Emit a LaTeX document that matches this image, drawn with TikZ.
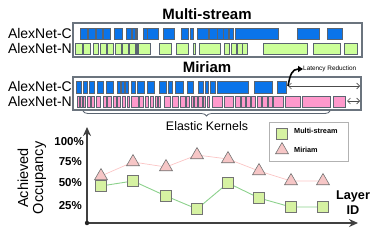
\documentclass[tikz,border=0pt]{standalone}
\usepackage{fontspec}
\setmainfont{Liberation Sans}
\usetikzlibrary{arrows.meta,shapes.geometric,decorations.pathreplacing}
\definecolor{cblue}{HTML}{0A74EA}
\definecolor{ngreen}{HTML}{CCFF99}
\definecolor{mpink}{HTML}{FF99CC}
\definecolor{edgegray}{HTML}{5A6470}
\definecolor{sqgreen}{HTML}{D6F2A2}
\definecolor{trpink}{HTML}{F6C6C6}
\tikzset{
  lane/.style={draw=edgegray!90,line width=1.2pt},
  cblk/.style={fill=cblue,draw=edgegray,line width=0.6pt},
  gblk/.style={fill=ngreen,draw=edgegray,line width=0.6pt},
  pblk/.style={fill=mpink,draw=edgegray,line width=0.6pt},
  rowlabel/.style={anchor=east,font=\fontsize{14}{14}\selectfont,inner sep=0pt},
  title/.style={font=\fontsize{15}{15}\selectfont\bfseries,inner sep=0pt},
  sqmark/.style={draw=black!55,fill=sqgreen,line width=0.6pt,minimum size=11pt,inner sep=0pt},
  trmark/.style={draw=black!55,fill=trpink,line width=0.6pt,regular polygon,regular polygon sides=3,minimum size=15pt,inner sep=0pt},
  pct/.style={anchor=east,font=\fontsize{11.5}{12}\selectfont\bfseries,inner sep=0pt}
}
\begin{document}
\begin{tikzpicture}[x=1pt,y=-1pt]
  \useasboundingbox (0,0) rectangle (374,242);
  % Multi-stream
  \node[title] (mstitle) at (207,14) {Multi-stream};
  \draw[lane] (73,23) rectangle (362,57);
  \node[rowlabel] (msc) at (72,33) {AlexNet-C};
  \node[rowlabel] (msn) at (72,48) {AlexNet-N};
  \foreach \a/\b in {80/87,88/95,96/102,103/110,114/122,126/131,132/135,136/137,
    143/147,147/158,163/174,181/188,190/193,197/208,209/217,217/223,223/228,
    229/233,235/278,297/319,327/342}
    \draw[cblk] (\a,28) rectangle (\b,39);
  \foreach \a/\b in {75/82,83/90,93/98,100/106,107/113,115/121,122/128,129/135,
    136/137,138/150,159/171,176/188,193/195,199/220,224/229,231/236,237/242,
    242/247,263/307,313/340,344/357}
    \draw[gblk] (\a,43) rectangle (\b,54);
  % Miriam
  \node[title] (mirtitle) at (207,67) {Miriam};
  \draw[lane] (73,77) rectangle (361,110);
  \node[rowlabel] (mc) at (72,86) {AlexNet-C};
  \node[rowlabel] (mn) at (72,101) {AlexNet-N};
  \foreach \a/\b in {76/81,83/87,89/94,97/103,106/113,117/120,121/124,125/128,
    131/135,137/144,147/154,159/166,168/172,175/183,187/193,198/203,205/208,
    210/215,217/248,254/272,277/286}
    \draw[cblk] (\a,81) rectangle (\b,93);
  \foreach \a/\b in {77/79,80/82,83/85,87/90,91/94,96/100,103/106,107/111,
    113/116,117/120,122/125,127/129,131/138,139/143,145/148,150/153,155/157,
    158/160,164/170,172/178,180/185,186/189,191/193,194/197,198/202,203/205,
    207/209,212/222,224/233,235/240,241/245,246/250,251/255,257/261,262/267,
    268/272,273/283,285/300,302/330,333/345}
    \draw[pblk] (\a,96) rectangle (\b,107);
  \coordinate (cend) at (288,86);
  \coordinate (cfar) at (360,86);
  \coordinate (nend) at (347,101);
  \coordinate (nfar) at (360,101);
  \draw[{Straight Barb[length=3pt]}-{Straight Barb[length=3pt]},black!70,line width=0.6pt] (cend) -- (cfar);
  \draw[{Straight Barb[length=3pt]}-{Straight Barb[length=3pt]},black!70,line width=0.6pt] (nend) -- (nfar);
  \node[anchor=west,font=\fontsize{6.4}{7}\selectfont,inner sep=0pt] (latency) at (303,69) {Latency Reduction};
  \draw[-{Triangle[length=5pt,width=6pt]},line width=1.6pt] (cend) .. controls (290,75) and (292,69) .. (latency.west);
  \draw[decorate,decoration={brace,mirror,amplitude=5pt},edgegray,line width=0.8pt] (83,111) -- (330,111);
  \node[font=\fontsize{12.4}{13}\selectfont,inner sep=0pt] (elastic) at (207,126) {Elastic Kernels};
  % occupancy chart
  \coordinate (origin) at (87,223);
  \draw[-{Stealth[length=9pt,width=8pt]},black!75,line width=2.2pt] (origin) -- (87,127);
  \draw[-{Stealth[length=9pt,width=8pt]},black!75,line width=2.2pt] (origin) -- (358,223);
  \fill[black!85] (origin) circle (2.2pt);
  \node[pct] (p100) at (84,142) {100\%};
  \node[pct] (p75) at (82,162) {75\%};
  \node[pct] (p50) at (82,183) {50\%};
  \node[pct] (p25) at (82,206) {25\%};
  \node[rotate=90,align=center,font=\fontsize{14.5}{15}\selectfont,inner sep=0pt] (ylab) at (32,178) {Achieved\\Occupancy};
  \node[align=center,font=\fontsize{12.7}{15}\selectfont\bfseries,inner sep=0pt] (xlab) at (353,203) {Layer\\ID};
  \draw[trpink!80!red!60,line width=0.7pt] (101,176) -- (133,162) -- (166,167) -- (197,155) -- (228,159) -- (259,171) -- (291,181) -- (323,181);
  \draw[green!60!black!45,line width=0.9pt] (101,186) -- (133,181) -- (166,196) -- (197,209) -- (228,183) -- (259,198) -- (291,207) -- (323,207);
  \foreach \x/\y in {101/176,133/162,166/167,197/155,228/159,259/171,291/181,323/181}
    \node[trmark] at (\x,\y) {};
  \foreach \x/\y in {101/186,133/181,166/196,197/209,228/183,259/198,291/207,323/207}
    \node[sqmark] at (\x,\y) {};
  % legend
  \draw[black!30,line width=0.8pt] (269,122) rectangle (348,161);
  \node[sqmark] (legsq) at (282,134) {};
  \node[trmark] (legtr) at (282,150) {};
  \node[anchor=west,font=\fontsize{7.3}{8}\selectfont\bfseries,inner sep=0pt] (legms) at (294,131) {Multi-stream};
  \node[anchor=west,font=\fontsize{7.3}{8}\selectfont\bfseries,inner sep=0pt] (legmir) at (294,150) {Miriam};
\end{tikzpicture}
\end{document}
